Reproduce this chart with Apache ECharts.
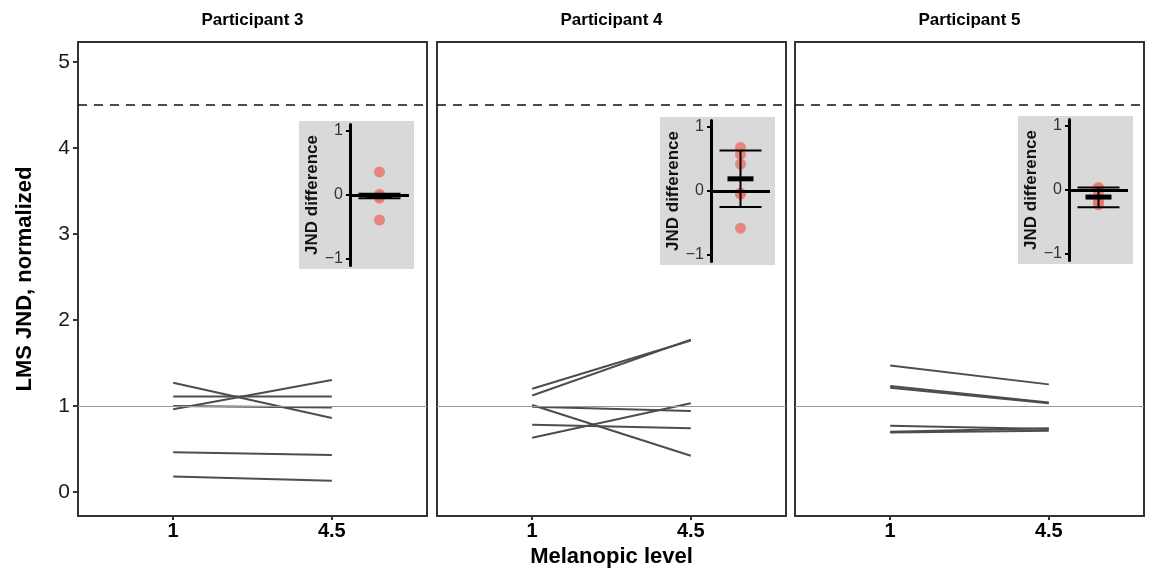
<!DOCTYPE html>
<html><head><meta charset="utf-8">
<script src="https://cdn.jsdelivr.net/npm/echarts@6/dist/echarts.min.js"></script>
<style>html,body{margin:0;padding:0;background:#fff}#c{width:1149px;height:568px}</style>
</head><body><div id="c"></div>
<script>
// ---- data ----
const participants = ['Participant 3', 'Participant 4', 'Participant 5'];
const melanopicLevels = ['1', '4.5'];
const yTicks = [0, 1, 2, 3, 4, 5];
const insetTicks = [-1, 0, 1];
const referenceLevel = 1;
const maxLevel = 4.5;
// LMS JND (normalized) at melanopic level 1 and 4.5, one entry per line
const p3Level1  = [1.27, 0.96, 1.11, 1.00, 0.46, 0.18];
const p3Level45 = [0.86, 1.30, 1.11, 0.98, 0.43, 0.13];
const p4Level1  = [1.20, 1.12, 0.99, 1.01, 0.78, 0.63];
const p4Level45 = [1.76, 1.77, 0.94, 0.42, 0.74, 1.03];
const p5Level1  = [1.47, 1.23, 1.21, 0.77, 0.70, 0.69];
const p5Level45 = [1.25, 1.04, 1.03, 0.73, 0.74, 0.71];
// JND differences (inset)
const p3Diff = [0.36, 0.01, -0.02, -0.03, -0.05, -0.39];
const p4Diff = [0.68, 0.57, 0.42, -0.03, -0.05, -0.58];
const p5Diff = [0.04, 0.02, -0.04, -0.17, -0.20, -0.23];
// inset summary: mean, low, high
const p3Summary = [-0.02, -0.05, 0.02];
const p4Summary = [0.19, -0.25, 0.63];
const p5Summary = [-0.11, -0.27, 0.04];

// ---- layout ----
const FONT = 'Liberation Sans, Arial, Helvetica, sans-serif';
const panelLeft = [78, 437, 795];
const panelW = 349, panelTop = 42, panelH = 474;
const insetAxisX = [350, 711, 1069];
const insetZeroY = [195, 191, 190];
const insetW = 59, insetHalfH = 70.5;

const level1 = [p3Level1, p4Level1, p5Level1];
const level45 = [p3Level45, p4Level45, p5Level45];
const diffs = [p3Diff, p4Diff, p5Diff];
const summaries = [p3Summary, p4Summary, p5Summary];

const grid = [], xAxis = [], yAxis = [], series = [], title = [], graphic = [];

for (let p = 0; p < 3; p++) {
  grid.push({left: panelLeft[p], top: panelTop, width: panelW, height: panelH, outerBoundsMode: 'none',
    containLabel: false,
    show: true, borderColor: '#333', borderWidth: 2, backgroundColor: 'transparent'});
  xAxis.push({type: 'value', gridIndex: p, min: 0.4, max: 2.6, position: 'bottom',
    axisLine: {show: false, onZero: false}, splitLine: {show: false},
    axisTick: {show: true, customValues: [1, 2], length: 4, lineStyle: {color: '#333', width: 2}},
    axisLabel: {customValues: [1, 2], formatter: v => melanopicLevels[Math.round(v) - 1],
      fontFamily: FONT, fontWeight: 'bold', fontSize: 20, color: '#000', margin: 5},
    name: p === 1 ? 'Melanopic level' : '', nameLocation: 'middle', nameGap: 26,
    nameTextStyle: {fontFamily: FONT, fontWeight: 'bold', fontSize: 22, color: '#000'}
  });
  yAxis.push({type: 'value', gridIndex: p, min: -0.28, max: 5.23, position: 'left',
    axisLine: {show: false, onZero: false}, splitLine: {show: false},
    axisTick: {show: p === 0, customValues: yTicks, length: 5, lineStyle: {color: '#333', width: 2}},
    axisLabel: {show: p === 0, customValues: yTicks, fontFamily: FONT, fontSize: 21, color: '#1a1a1a', margin: 8},
    name: p === 0 ? 'LMS JND, normalized' : '', nameLocation: 'middle', nameGap: 42, nameRotate: 90,
    nameTextStyle: {fontFamily: FONT, fontWeight: 'bold', fontSize: 22, color: '#000'}
  });
  title.push({text: participants[p], left: panelLeft[p] + panelW / 2, top: 12, textAlign: 'center', padding: 0,
    textStyle: {fontFamily: FONT, fontWeight: 'bold', fontSize: 17, color: '#000'}});
  for (let i = 0; i < level1[p].length; i++) {
    const s = {type: 'line', xAxisIndex: p, yAxisIndex: p, symbol: 'none', silent: true,
      lineStyle: {color: '#4d4d4d', width: 2}, z: 3,
      data: [[1, level1[p][i]], [2, level45[p][i]]]};
    if (i === 0) {
      s.markLine = {symbol: ['none', 'none'], silent: true, label: {show: false}, animation: false,
        data: [
          {yAxis: referenceLevel, lineStyle: {color: '#999', width: 1, type: 'solid'}},
          {yAxis: maxLevel, lineStyle: {color: '#111', width: 1.5, type: [9, 7]}}
        ]};
    }
    series.push(s);
  }
}

for (let p = 0; p < 3; p++) {
  const g = 3 + p;
  grid.push({left: insetAxisX[p], top: insetZeroY[p] - insetHalfH, width: insetW, height: insetHalfH * 2,
    show: false, outerBoundsMode: 'none', containLabel: false});
  xAxis.push({type: 'value', gridIndex: g, min: 0.4, max: 1.6, show: false});
  yAxis.push({type: 'value', gridIndex: g, min: -1.1, max: 1.1, position: 'left',
    axisLine: {show: true, onZero: false, lineStyle: {color: '#000', width: 3}}, splitLine: {show: false},
    axisTick: {show: true, customValues: insetTicks, length: 4, lineStyle: {color: '#000', width: 2}},
    axisLabel: {customValues: insetTicks, formatter: v => v < 0 ? '\u2212' + Math.abs(v) : String(v),
      fontFamily: FONT, fontSize: 16, color: '#333', margin: 7},
    name: 'JND difference', nameLocation: 'middle', nameGap: 25, nameRotate: 90,
    nameTextStyle: {fontFamily: FONT, fontWeight: 'bold', fontSize: 17, color: '#111'}
  });
  graphic.push({type: 'rect', z: -1, silent: true,
    shape: {x: insetAxisX[p] - 51, y: insetZeroY[p] - 74, width: 115, height: 148},
    style: {fill: '#d9d9d9'}});
  series.push({type: 'scatter', xAxisIndex: g, yAxisIndex: g, symbolSize: 11, silent: true, z: 3,
    itemStyle: {color: '#E8776C', opacity: 0.85},
    data: diffs[p].map(d => [1, d])});
  series.push({type: 'custom', xAxisIndex: g, yAxisIndex: g, silent: true, z: 5,
    data: [[1].concat(summaries[p])],
    renderItem: (params, api) => {
      const x = api.value(0), m = api.value(1), lo = api.value(2), hi = api.value(3);
      const pl = api.coord([x, lo]), ph = api.coord([x, hi]), pm = api.coord([x, m]);
      const hw = 21, mw = 13;
      const st = {stroke: '#000', lineWidth: 2};
      return {type: 'group', children: [
        {type: 'line', shape: {x1: pl[0], y1: pl[1], x2: ph[0], y2: ph[1]}, style: st},
        {type: 'line', shape: {x1: pl[0] - hw, y1: pl[1], x2: pl[0] + hw, y2: pl[1]}, style: st},
        {type: 'line', shape: {x1: ph[0] - hw, y1: ph[1], x2: ph[0] + hw, y2: ph[1]}, style: st},
        {type: 'line', shape: {x1: pm[0] - mw, y1: pm[1], x2: pm[0] + mw, y2: pm[1]}, style: {stroke: '#000', lineWidth: 5}}
      ]};
    },
    markLine: {symbol: ['none', 'none'], silent: true, label: {show: false}, animation: false,
      data: [{yAxis: 0, lineStyle: {color: '#000', width: 3, type: 'solid'}}]}
  });
}

const chart = echarts.init(document.getElementById('c'), null, {renderer: 'canvas'});
chart.setOption({animation: false, backgroundColor: '#fff', title, grid, xAxis, yAxis, series, graphic});
</script></body></html>
